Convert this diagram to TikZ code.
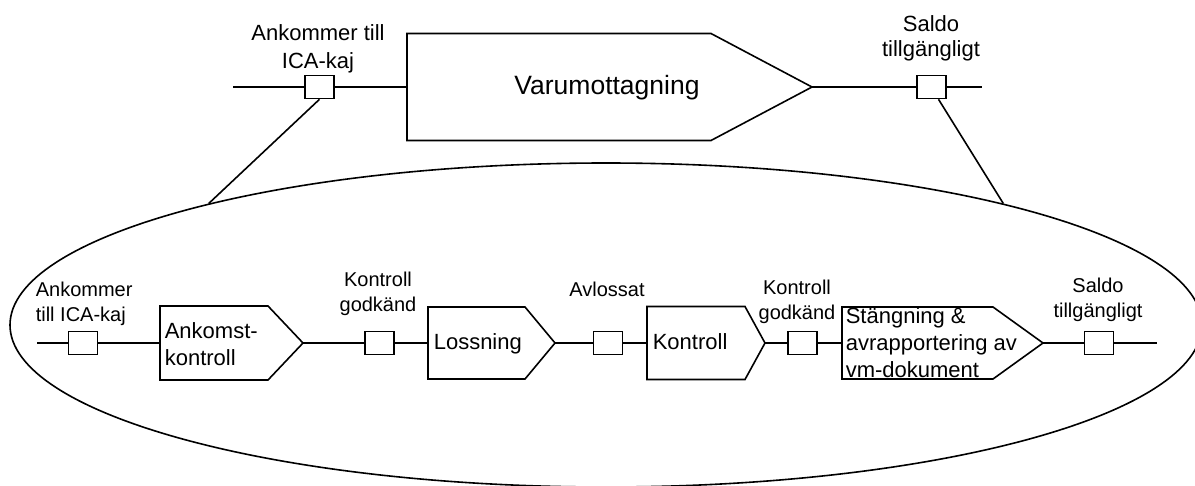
\documentclass[tikz,border=0pt]{standalone}
\usepackage{fontspec}
\setmainfont{Liberation Sans}
\usetikzlibrary{shapes.geometric}

\tikzset{
  port/.style={draw, fill=white, minimum width=29pt, minimum height=23pt, inner sep=0pt},
  body/.style={inner sep=0pt, outer sep=0pt},
  proc/.style={draw, line join=miter},
  lbl/.style={inner sep=0pt, align=center, font=\fontsize{20}{25}\selectfont},
  toplbl/.style={inner sep=0pt, align=center, font=\fontsize{22}{28}\selectfont},
  intext/.style={inner sep=0pt, align=left, anchor=north west, font=\fontsize{22}{27}\selectfont},
}

\begin{document}
\begin{tikzpicture}[x=1pt, y=-1pt, line width=1.6pt]
\useasboundingbox (0,0) rectangle (1195,485);

% ---------- upper level: the whole process ----------
\coordinate (topL) at (233,87);
\coordinate (topR) at (982,87);
\node[port] (tA) at (319.5,87) {};
\node[port] (tS) at (931.5,87) {};

\node[body, minimum width=304pt, minimum height=107pt] (V) at (559,87) {};
\coordinate (Vtip) at (812,87);
\draw[proc] (V.north west) -- (V.north east) -- (Vtip) -- (V.south east) -- (V.south west) -- cycle;
\node[inner sep=0pt, anchor=base, font=\fontsize{26.5}{30}\selectfont] (Vt) at (607,94) {Varumottagning};

\draw (topL) -- (tA.west);
\draw (tA.east) -- (V.west);
\draw (Vtip) -- (tS.west);
\draw (tS.east) -- (topR);

\node[toplbl, anchor=north] (tAl) at (318,24) {Ankommer till\\ICA-kaj};
\node[toplbl, anchor=north, font=\fontsize{22}{25}\selectfont] (tSl) at (931,15) {Saldo\\tillgängligt};

% ---------- lower level: the sub-process inside the ellipse ----------
\node[draw, ellipse, minimum width=1192pt, minimum height=324pt, inner sep=0pt] (sub) at (606,325) {};
\draw (tA.south) -- (sub.163);
\draw ([xshift=7pt]tS.south) -- (sub.17);

\coordinate (bL) at (37,343);
\coordinate (bR) at (1157,343);
\node[port] (b1) at (83,343) {};
\node[port] (b2) at (379.5,343) {};
\node[port] (b3) at (608,343) {};
\node[port] (b4) at (802.5,343) {};
\node[port] (b5) at (1099,343) {};

\node[body, minimum width=108pt, minimum height=74pt] (A) at (214,343) {};
\coordinate (Atip) at (303,343);
\draw[proc] (A.north west) -- (A.north east) -- (Atip) -- (A.south east) -- (A.south west) -- cycle;

\node[body, minimum width=97pt, minimum height=72pt] (L) at (476.5,343) {};
\coordinate (Ltip) at (555,343);
\draw[proc] (L.north west) -- (L.north east) -- (Ltip) -- (L.south east) -- (L.south west) -- cycle;

\node[body, minimum width=98pt, minimum height=73pt] (K) at (696,343) {};
\coordinate (Ktip) at (765,343);
\draw[proc] (K.north west) -- (K.north east) -- (Ktip) -- (K.south east) -- (K.south west) -- cycle;

\node[body, minimum width=151pt, minimum height=72pt] (S) at (917.5,343) {};
\coordinate (Stip) at (1043,343);
\draw[proc] (S.north west) -- (S.north east) -- (Stip) -- (S.south east) -- (S.south west) -- cycle;

\draw (bL) -- (b1.west);
\draw (b1.east) -- (A.west);
\draw (Atip) -- (b2.west);
\draw (b2.east) -- (L.west);
\draw (Ltip) -- (b3.west);
\draw (b3.east) -- (K.west);
\draw (Ktip) -- (b4.west);
\draw (b4.east) -- (S.west);
\draw (Stip) -- (b5.west);
\draw (b5.east) -- (bR);

% texts inside the process shapes
\node[intext] (At) at (164,322) {Ankomst-\\kontroll};
\node[intext] (Lt) at (433,333) {Lossning};
\node[intext] (Kt) at (652,333) {Kontroll};
\node[intext] (St) at (845,307) {Stängning \&\\avrapportering av\\vm-dokument};

% event labels
\node[lbl, anchor=north west, align=left] (b1l) at (35,281) {Ankommer\\till ICA-kaj};
\node[lbl, anchor=north] (b2l) at (378,271) {Kontroll\\godkänd};
\node[lbl, anchor=base] (b3l) at (607,296) {Avlossat};
\node[lbl, anchor=north] (b4l) at (797,279) {Kontroll\\godkänd};
\node[lbl, anchor=north] (b5l) at (1098,277) {Saldo\\tillgängligt};
\end{tikzpicture}
\end{document}
